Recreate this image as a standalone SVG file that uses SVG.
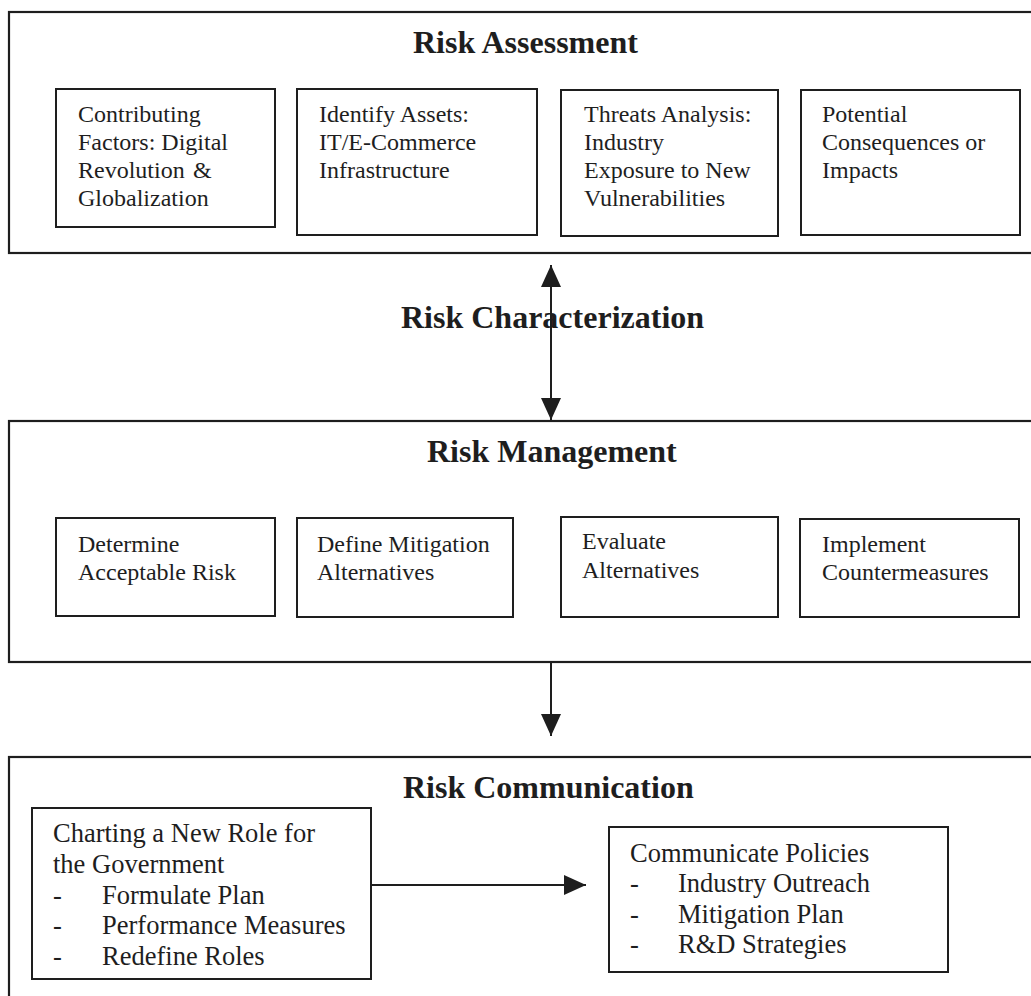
<svg xmlns="http://www.w3.org/2000/svg" width="1031" height="996" viewBox="0 0 1031 996">
<style>
.outer{fill:none;stroke:#1e1e1e;stroke-width:2.2}
.box{fill:#fff;stroke:#1e1e1e;stroke-width:2}
.title{font-family:"Liberation Serif","Times New Roman",serif;font-weight:bold;font-size:32px;fill:#1e1e1e}
.t{font-family:"Liberation Serif","Times New Roman",serif;font-size:24px;fill:#1e1e1e}
.b{font-family:"Liberation Serif","Times New Roman",serif;font-size:26.5px;fill:#1e1e1e}
.conn{stroke:#1e1e1e;stroke-width:2;fill:none}
</style>
<defs>
<marker id="ah" markerUnits="userSpaceOnUse" markerWidth="22" markerHeight="22" viewBox="0 0 22 20" refX="22" refY="10" orient="auto-start-reverse">
<path d="M0,0 L22,10 L0,20 z" fill="#1e1e1e"/>
</marker>
</defs>
<rect width="1031" height="996" fill="#fff"/>

<g id="risk-assessment">
<rect class="outer" x="9" y="12" width="1040" height="241"/>
<text class="title" x="413" y="53">Risk Assessment</text>
</g>
<g id="contributing-factors">
<rect class="box" x="56" y="89" width="219" height="138"/>
<text class="t" x="78" y="122">Contributing</text>
<text class="t" x="78" y="150">Factors: Digital</text>
<text class="t" x="78" y="178">Revolution<tspan x="193">&amp;</tspan></text>
<text class="t" x="78" y="206">Globalization</text>
</g>
<g id="identify-assets">
<rect class="box" x="297" y="89" width="240" height="146"/>
<text class="t" x="319" y="122">Identify Assets:</text>
<text class="t" x="319" y="150">IT/E-Commerce</text>
<text class="t" x="319" y="178">Infrastructure</text>
</g>
<g id="threats-analysis">
<rect class="box" x="561" y="90" width="217" height="146"/>
<text class="t" x="584" y="122">Threats Analysis:</text>
<text class="t" x="584" y="150">Industry</text>
<text class="t" x="584" y="178">Exposure to New</text>
<text class="t" x="584" y="206">Vulnerabilities</text>
</g>
<g id="potential-consequences">
<rect class="box" x="801" y="90" width="219" height="145"/>
<text class="t" x="822" y="122">Potential</text>
<text class="t" x="822" y="150">Consequences or</text>
<text class="t" x="822" y="178">Impacts</text>
</g>

<g id="risk-characterization">
<text class="title" x="401" y="328">Risk Characterization</text>
</g>

<g id="risk-management">
<rect class="outer" x="9" y="421" width="1040" height="241"/>
<text class="title" x="427" y="462">Risk Management</text>
</g>
<g id="determine-acceptable-risk">
<rect class="box" x="56" y="518" width="219" height="98"/>
<text class="t" x="78" y="552">Determine</text>
<text class="t" x="78" y="580">Acceptable Risk</text>
</g>
<g id="define-mitigation">
<rect class="box" x="297" y="518" width="216" height="99"/>
<text class="t" x="317" y="552">Define Mitigation</text>
<text class="t" x="317" y="580">Alternatives</text>
</g>
<g id="evaluate-alternatives">
<rect class="box" x="561" y="517" width="217" height="100"/>
<text class="t" x="582" y="549">Evaluate</text>
<text class="t" x="582" y="578">Alternatives</text>
</g>
<g id="implement-countermeasures">
<rect class="box" x="800" y="519" width="219" height="98"/>
<text class="t" x="822" y="552">Implement</text>
<text class="t" x="822" y="580">Countermeasures</text>
</g>

<g id="risk-communication">
<rect class="outer" x="9" y="757" width="1040" height="260"/>
<text class="title" x="403" y="798">Risk Communication</text>
</g>
<g id="charting-new-role">
<rect class="box" x="32" y="808" width="339" height="171"/>
<text class="b" x="53" y="842">Charting a New Role for</text>
<text class="b" x="53" y="873">the Government</text>
<text class="b" x="53" y="904">-<tspan x="102">Formulate Plan</tspan></text>
<text class="b" x="53" y="934">-<tspan x="102">Performance Measures</tspan></text>
<text class="b" x="53" y="965">-<tspan x="102">Redefine Roles</tspan></text>
</g>
<g id="communicate-policies">
<rect class="box" x="609" y="827" width="339" height="145"/>
<text class="b" x="630" y="862">Communicate Policies</text>
<text class="b" x="630" y="892">-<tspan x="678">Industry Outreach</tspan></text>
<text class="b" x="630" y="923">-<tspan x="678">Mitigation Plan</tspan></text>
<text class="b" x="630" y="953">-<tspan x="678">R&amp;D Strategies</tspan></text>
</g>

<g id="connectors">
<line class="conn" x1="551" y1="265" x2="551" y2="420" marker-start="url(#ah)" marker-end="url(#ah)"/>
<line class="conn" x1="551" y1="662" x2="551" y2="736" marker-end="url(#ah)"/>
<line class="conn" x1="371" y1="885" x2="586" y2="885" marker-end="url(#ah)"/>
</g>
</svg>
